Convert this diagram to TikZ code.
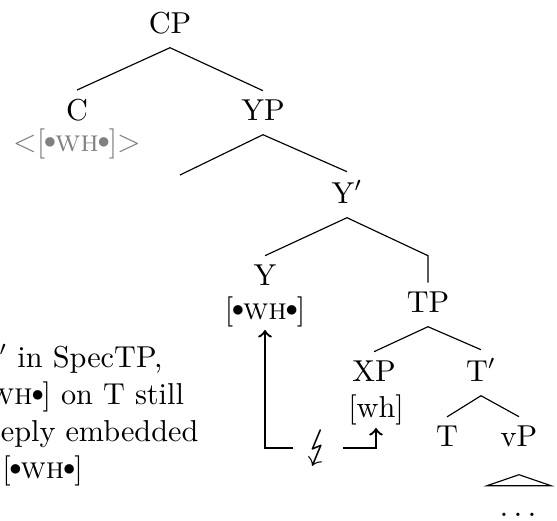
\documentclass[tikz,border=0pt]{standalone}
\usepackage{graphicx}
\usepackage{stmaryrd}

\newcommand{\WhDot}{\kern-.04em\raisebox{.08em}{\scalebox{.78}{$\bullet$}}\kern-.04em}
\newcommand{\WhFeat}{[\WhDot\textsc{wh}\WhDot]}

\tikzset{
	cat/.style={anchor=base, inner xsep=1pt, inner ysep=2.8pt, text depth=2.1pt},
	feat/.style={anchor=base, inner sep=1pt},
	probe/.style={thick, ->}
}

\begin{document}
\begin{tikzpicture}[x=0.347pt, y=-0.347pt, font=\fontsize{10.5}{12.8}\selectfont]

	\useasboundingbox (0,0) rectangle (557,520);

	\node[cat] (cp) at (170, 33) {CP};
	\node[cat] (c) at (77, 120) {C};
	\node[feat, gray] (cwh) at (77, 151) {<\WhFeat>};
	\node[cat] (yp) at (263, 120) {YP};
	\coordinate (spec) at (180, 175);
	\node[cat] (ybar) at (347, 203) {Y$'$};
	\node[cat] (y) at (265, 285) {Y};
	\node[feat] (ywh) at (265, 319) {\WhFeat};
	\node[cat] (tp) at (428, 312) {TP};
	\node[cat] (xp) at (374, 381) {XP};
	\node[feat] (xwh) at (376, 417) {[wh]};
	\node[cat] (tbar) at (481, 381) {T$'$};
	\node[cat] (t) at (447, 446) {T};
	\node[cat] (vp) at (519, 446) {vP};
	\node[anchor=base] (dots) at (518, 516) {$\ldots$};

	\draw (cp.south) -- (c.north);
	\draw (cp.south) -- (yp.north);
	\draw (yp.south) -- (spec);
	\draw (yp.south) -- (ybar.north);
	\draw (ybar.south) -- (y.north);
	\draw (ybar.south) -- (y.north -| tp.north) -- (tp.north);
	\draw (tp.south) -- (xp.north);
	\draw (tp.south) -- (tbar.north);
	\draw (tbar.south) -- (t.north);
	\draw (tbar.south) -- (vp.north);
	\draw (vp.south) ++(0,14) -- ++(-32,11) -- ++(64,0) -- cycle;

	% probing from Y, blocked on the way
	\node[inner xsep=4pt, inner ysep=0pt, font=\Large] (clash) at (318, 448) {$\lightning$};
	\draw[probe] (clash.west) -- (ywh.south |- clash.west) -- (ywh.south);
	\draw[probe] (clash.east) -- (xwh.south |- clash.east) -- (xwh.south);

	\node[anchor=base west, align=left, inner sep=0pt] (note) at (-30, 478)
		{Y\kern.2em$'$ in SpecTP,\\\WhFeat\ on T still\\deeply embedded\\\hspace*{11pt}\WhFeat};

\end{tikzpicture}
\end{document}
